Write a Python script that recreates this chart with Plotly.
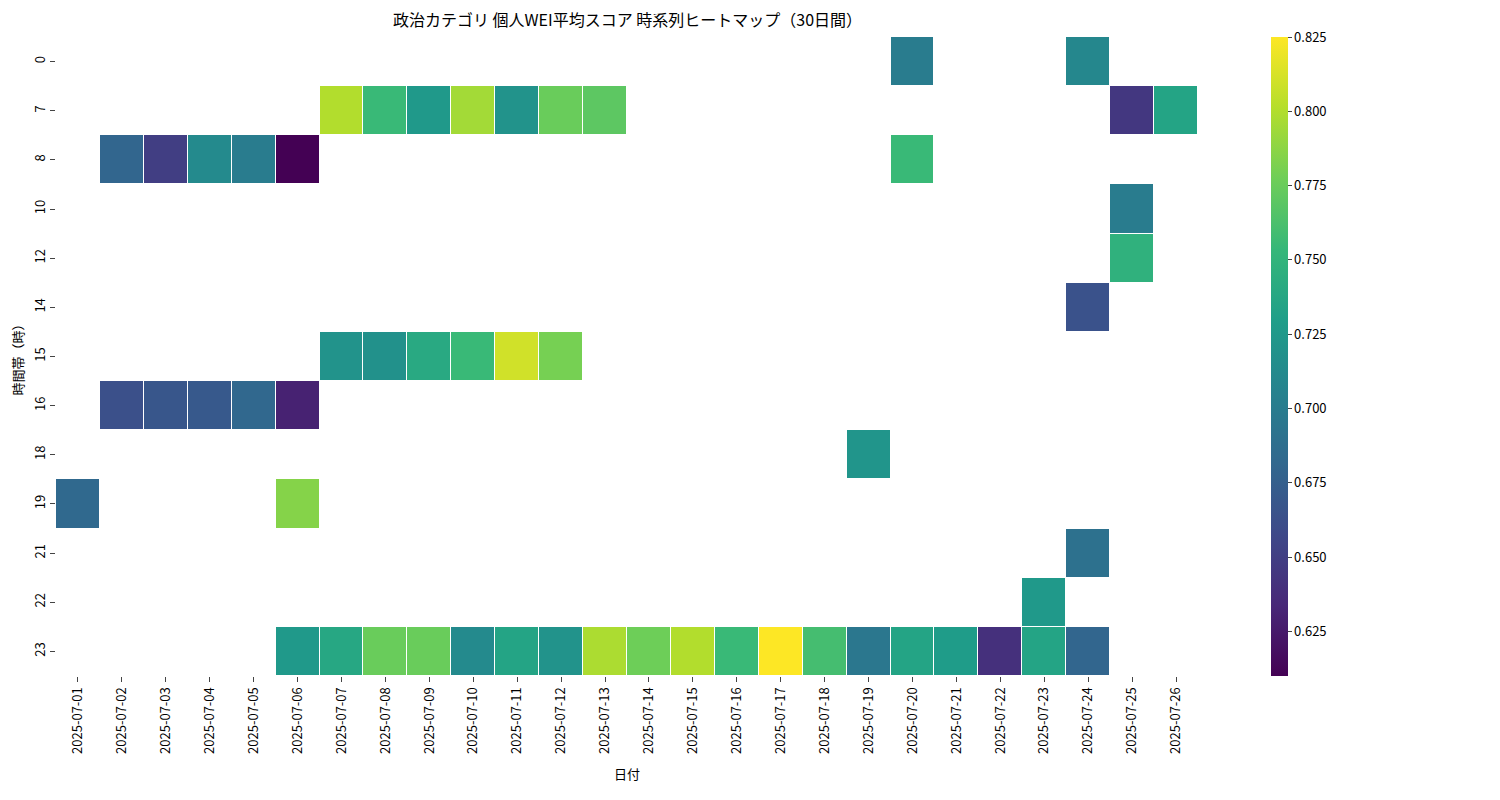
import plotly.graph_objects as go

dates = [f"2025-07-{d:02d}" for d in range(1, 27)]
hours = ["0", "7", "8", "10", "12", "14", "15", "16", "18", "19", "21", "22", "23"]
N = None
# values per hour row, columns = dates 07-01 .. 07-26
h0  = [N]*19 + [0.700, N, N, N, 0.710, N, N]
h7  = [N]*6 + [0.800, 0.755, 0.725, 0.795, 0.720, 0.775, 0.770] + [N]*11 + [0.645, 0.735]
h8  = [N, 0.680, 0.650, 0.712, 0.700, 0.610] + [N]*13 + [0.755] + [N]*6
h10 = [N]*24 + [0.700, N]
h12 = [N]*24 + [0.748, N]
h14 = [N]*23 + [0.665, N, N]
h15 = [N]*6 + [0.720, 0.718, 0.740, 0.755, 0.810, 0.780] + [N]*14
h16 = [N, 0.663, 0.668, 0.670, 0.682, 0.630] + [N]*20
h18 = [N]*18 + [0.722] + [N]*7
h19 = [0.683, N, N, N, N, 0.785] + [N]*20
h21 = [N]*23 + [0.690, N, N]
h22 = [N]*22 + [0.725, N, N, N]
h23 = [N]*5 + [0.725, 0.738, 0.775, 0.775, 0.712, 0.735, 0.720, 0.798, 0.777, 0.800,
                0.755, 0.825, 0.760, 0.695, 0.735, 0.728, 0.640, 0.735, 0.680, N, N]
z = [h0, h7, h8, h10, h12, h14, h15, h16, h18, h19, h21, h22, h23]

font = "Noto Sans CJK JP"
fig = go.Figure(go.Heatmap(
    z=z, x=dates, y=hours, colorscale="Viridis", zmin=0.61, zmax=0.825,
    xgap=1, ygap=1, hoverongaps=False,
    colorbar=dict(x=1.055, xanchor="left", y=0, yanchor="bottom", len=1, lenmode="fraction",
                  ypad=0, thickness=17, outlinewidth=0, ticks="outside", ticklen=4,
                  tickvals=[0.625, 0.65, 0.675, 0.7, 0.725, 0.75, 0.775, 0.8, 0.825],
                  tickformat=".3f", tickfont=dict(size=13, family=font)),
))
fig.update_layout(
    width=1500, height=800, plot_bgcolor="white", paper_bgcolor="white",
    margin=dict(l=48, r=310, t=29, b=132, autoexpand=False),
    font=dict(family=font, color="black"),
    title=dict(text="政治カテゴリ 個人WEI平均スコア 時系列ヒートマップ（30日間）", x=0.413, xanchor="center",
               xref="container", yref="container", y=0.985, yanchor="middle",
               automargin=False, font=dict(size=16)),
    xaxis=dict(type="category", title=dict(text="日付", font=dict(size=13), standoff=16), tickangle=-90,
               ticks="outside", ticklen=5, tickfont=dict(size=13), showgrid=False, zeroline=False,
               automargin=False),
    yaxis=dict(type="category", title=dict(text="時間帯（時）", font=dict(size=13), standoff=14),
               autorange="reversed", tickangle=-90, ticks="outside", ticklen=5, tickfont=dict(size=13),
               showgrid=False, zeroline=False, automargin=False),
)
fig.write_html("out.html")
